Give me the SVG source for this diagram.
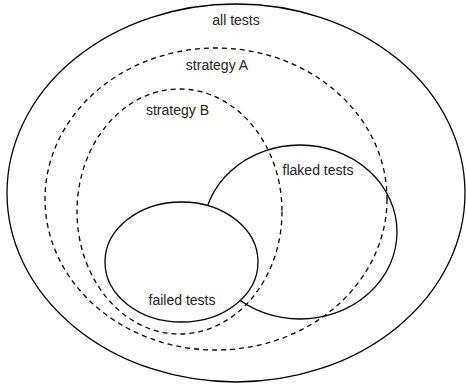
<svg xmlns="http://www.w3.org/2000/svg" width="466" height="387" viewBox="0 0 466 387">
<style>
.s{fill:#fff;stroke:#000;stroke-width:1.3}
.d{fill:none;stroke:#000;stroke-width:1.3;stroke-dasharray:5 4}
text{font-family:"Liberation Sans",Arial,sans-serif;font-size:14px;fill:#222;text-anchor:middle}
</style>
<rect width="466" height="387" fill="#fff"/>
<g id="all-tests"><ellipse class="s" cx="236" cy="193" rx="229" ry="189"/><text x="236" y="25">all tests</text></g>
<g id="flaked-tests"><ellipse class="s" cx="300" cy="232" rx="97" ry="87"/><text x="318" y="175">flaked tests</text></g>
<g id="failed-tests"><ellipse class="s" cx="181.5" cy="262" rx="76.5" ry="60"/><text x="182" y="305">failed tests</text></g>
<g id="strategy-A"><ellipse class="d" cx="216" cy="199" rx="171" ry="151"/><text x="217" y="70">strategy A</text></g>
<g id="strategy-B"><ellipse class="d" cx="179.5" cy="211.5" rx="102.5" ry="122.5"/><text x="177.5" y="115">strategy B</text></g>
<g id="connectors"/>
</svg>
